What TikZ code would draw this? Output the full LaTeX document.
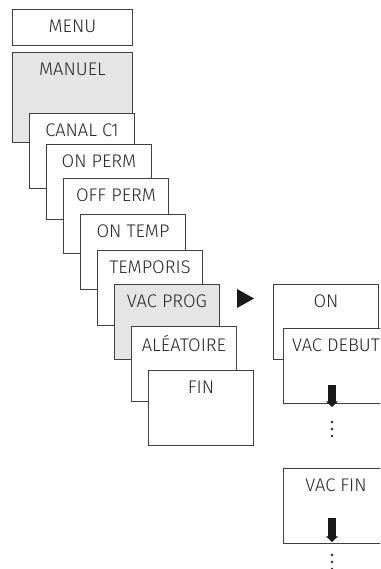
\documentclass[tikz,border=0pt]{standalone}
\usepackage{fontspec}
\setmainfont{Fira Sans Light}
\usepackage{xcolor}
\usepackage{tikz}
\usetikzlibrary{arrows.meta}
\usetikzlibrary{positioning}

\colorlet{rahmen}{black!75}
\colorlet{aktiv}{black!10}

\tikzset{
    menubox/.style={draw=rahmen, line width=0.7pt, fill=white, anchor=north west, inner sep=0pt,
        minimum width=26.25mm, minimum height=18.75mm},
    boxtext/.style={anchor=center, yshift=-4.4mm, text=black!85, font=\fontsize{13}{15}\selectfont},
    pfeil/.style={line width=1.9mm, -{Triangle[length=1.4mm, width=2.9mm]}},
    punkt/.style={fill=black!85}
}

\begin{document}
\begin{tikzpicture}[x=0.25mm, y=-0.25mm]
        \useasboundingbox (0,0) rectangle (380,569);
        \clip (0,0) rectangle (380,569);
        %MENU
        \node[menubox, minimum width=30mm, minimum height=9mm] (menu) at (12,9) {};
        \node[boxtext] (menutxt) at (menu.north) {MENU};
        \node[menubox, fill=aktiv, minimum width=30mm, minimum height=22.5mm] (manuel) at (12,52) {};
        \node[boxtext] (manueltxt) at (manuel.north) {MANUEL};
        %UNTERMENU MANUEL
        \node[menubox] (canal) at (29,113) {};
        \node[boxtext] (canaltxt) at (canal.north) {CANAL C1};
        \node[menubox] (onperm) at (46,144) {};
        \node[boxtext] (onpermtxt) at (onperm.north) {ON PERM};
        \node[menubox] (offperm) at (63,178) {};
        \node[boxtext] (offpermtxt) at (offperm.north) {OFF PERM};
        \node[menubox] (ontemp) at (80,214) {};
        \node[boxtext] (ontemptxt) at (ontemp.north) {ON TEMP};
        \node[menubox] (temporis) at (97,250) {};
        \node[boxtext] (temporistxt) at (temporis.north) {TEMPORIS};
        \node[menubox, fill=aktiv] (vacprog) at (114,284) {};
        \node[boxtext] (vacprogtxt) at (vacprog.north) {VAC PROG};
        \node[menubox] (aleatoire) at (131,326) {};
        \node[boxtext] (aleatoiretxt) at (aleatoire.north) {ALÉATOIRE};
        \node[menubox] (fin) at (148,370) {};
        \node[boxtext] (fintxt) at (fin.north) {FIN};
        %DREIECK
        \fill[black!90] (237,289) -- (254,298.5) -- (237,308) -- cycle;
        %VAC PROG
        \node[menubox] (on) at (273,284) {};
        \node[boxtext] (ontxt) at (on.north) {ON};
        \node[menubox] (vacdebut) at (283,328) {};
        \node[boxtext] (vacdebuttxt) at (vacdebut.north) {VAC DEBUT};
        \node[menubox] (vacfin) at (283,468) {};
        \node[boxtext] (vacfintxt) at (vacfin.north) {VAC FIN};
        %PFEILE
        \coordinate (debutpfeil) at (332,385);
        \coordinate (finpfeil) at (332,518);
        \draw[pfeil, black!90] (debutpfeil) -- (332,407);
        \draw[pfeil, black!90] (finpfeil) -- (332,542);
        %PUNKTE
        \foreach \y in {422,429,436,555,562,569}
            \fill[punkt] (332,\y) circle (1.3);
    \end{tikzpicture}
\end{document}
